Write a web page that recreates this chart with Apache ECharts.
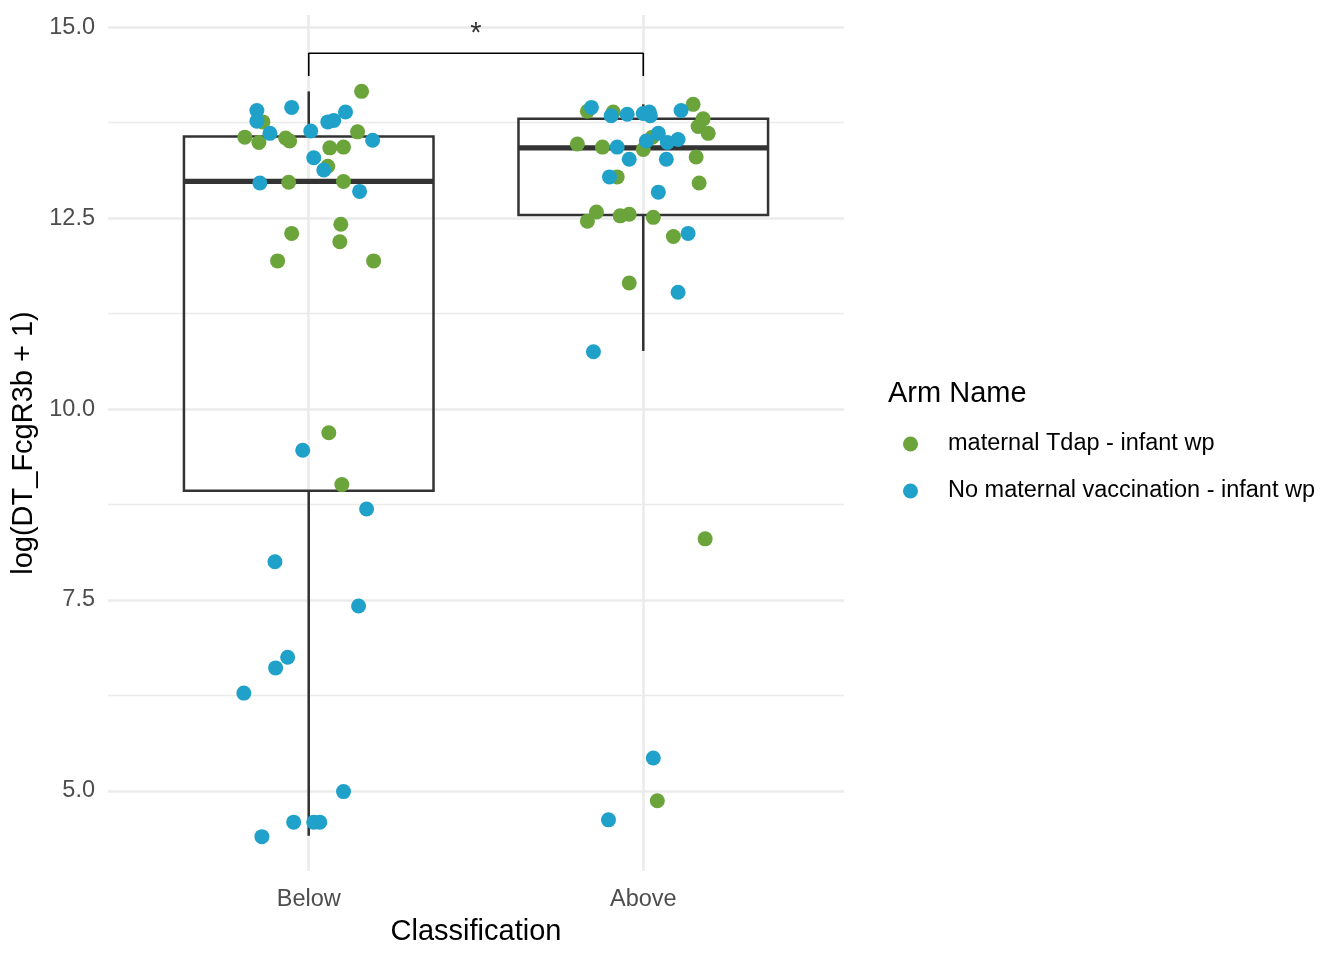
<!DOCTYPE html>
<html>
<head>
<meta charset="utf-8">
<script src="https://cdn.jsdelivr.net/npm/echarts@6/dist/echarts.min.js"></script>
<style>
	html, body { margin: 0; padding: 0; background: #fff; }
	#chart { width: 1344px; height: 960px; }
</style>
</head>
<body>
<div id="chart"></div>
<script>
// categories sit at x = 1 and x = 2, points carry their jitter
const categories = ['Below', 'Above'];
const categoryPos = [1, 2];
const armNames = ['maternal Tdap - infant wp', 'No maternal vaccination - infant wp'];
const armColors = ['#6AA43A', '#20A1C9'];

// boxplot stats per category
const boxLow = [4.41, 10.76];
const boxQ1 = [8.93, 12.54];
const boxMedian = [12.98, 13.42];
const boxQ3 = [13.57, 13.80];
const boxHigh = [14.16, 13.99];

// maternal Tdap - infant wp
const tdapX = [1.158, 0.863, 0.809, 0.851, 0.931, 0.943, 1.146, 1.063, 1.104, 1.057,
	0.940, 1.104, 1.096, 0.949, 1.093, 0.907, 1.194, 1.060, 1.099,
	1.833, 1.910, 2.149, 2.179, 2.164, 2.194, 1.803, 1.878, 2.027, 2.000,
	2.158, 1.922, 2.167, 1.860, 1.833, 1.931, 1.958, 2.030, 2.090, 1.958, 2.185, 2.042];
const tdapY = [14.16, 13.76, 13.56, 13.49, 13.55, 13.51, 13.63, 13.42, 13.43, 13.18,
	12.97, 12.98, 12.42, 12.30, 12.19, 11.94, 11.94, 9.69, 9.01,
	13.90, 13.89, 13.99, 13.80, 13.70, 13.61, 13.47, 13.43, 13.56, 13.40,
	13.30, 13.04, 12.96, 12.58, 12.46, 12.53, 12.55, 12.51, 12.26, 11.65, 8.30, 4.87];

// No maternal vaccination - infant wp
const noVaxX = [0.845, 0.949, 0.845, 1.110, 1.057, 1.075, 0.884, 1.006, 1.191, 1.015,
	1.045, 0.854, 1.152, 0.982, 1.173, 0.899, 1.149, 0.937, 0.901, 0.806,
	1.104, 0.955, 1.015, 1.033, 0.860,
	1.845, 1.904, 1.952, 2.000, 2.018, 2.021, 2.113, 1.922, 2.045, 2.009,
	2.072, 2.104, 1.958, 2.069, 1.899, 2.045, 2.134, 2.104, 1.851, 2.030, 1.896];
const noVaxY = [13.91, 13.95, 13.77, 13.89, 13.76, 13.78, 13.61, 13.64, 13.52, 13.29,
	13.13, 12.96, 12.85, 9.46, 8.69, 8.00, 7.42, 6.75, 6.61, 6.28,
	4.99, 4.59, 4.59, 4.59, 4.40,
	13.95, 13.84, 13.86, 13.87, 13.89, 13.84, 13.91, 13.43, 13.61, 13.51,
	13.49, 13.53, 13.27, 13.27, 13.04, 12.84, 12.30, 11.53, 10.75, 5.43, 4.62];

// significance bracket
const bracketX = [1, 1, 2, 2];
const bracketY = [14.36, 14.66, 14.66, 14.36];
const sigX = [1.5];
const sigY = [14.91];
const sigLabel = ['*'];

const yMajorTicks = [5, 7.5, 10, 12.5, 15];
const yMinorTicks = [6.25, 8.75, 11.25, 13.75];

const FONT = '"Liberation Sans", Arial, Helvetica, sans-serif';
const boxHalf = 0.373;

const boxData = categoryPos.map((x, i) => [x, boxLow[i], boxQ1[i], boxMedian[i], boxQ3[i], boxHigh[i]]);
const zip = (xs, ys) => xs.map((x, i) => [x, ys[i]]);

function renderBox(params, api) {
	const x = api.value(0);
	const lo = api.coord([x, api.value(1)]);
	const q1 = api.coord([x, api.value(2)]);
	const med = api.coord([x, api.value(3)]);
	const q3 = api.coord([x, api.value(4)]);
	const hi = api.coord([x, api.value(5)]);
	const left = api.coord([x - boxHalf, api.value(3)])[0];
	const right = api.coord([x + boxHalf, api.value(3)])[0];
	const stroke = {stroke: '#333333', lineWidth: 2.5, fill: null};
	return {
		type: 'group',
		children: [
			{type: 'line', shape: {x1: lo[0], y1: lo[1], x2: q1[0], y2: q1[1]}, style: stroke},
			{type: 'line', shape: {x1: q3[0], y1: q3[1], x2: hi[0], y2: hi[1]}, style: stroke},
			{type: 'rect', shape: {x: left, y: q3[1], width: right - left, height: q1[1] - q3[1]}, style: stroke},
			{type: 'line', shape: {x1: left, y1: med[1], x2: right, y2: med[1]},
				style: {stroke: '#333333', lineWidth: 5.2}},
		]
	};
}

const chart = echarts.init(document.getElementById('chart'));
chart.setOption({
	animation: false,
	backgroundColor: '#ffffff',
	textStyle: {fontFamily: FONT},
	grid: {left: 108, right: 500, top: 15, bottom: 89, containLabel: false},
	title: {
		text: 'Arm Name',
		left: 888,
		top: 379,
		padding: 0,
		textStyle: {fontFamily: FONT, fontSize: 29, fontWeight: 'normal', color: '#000000'}
	},
	legend: {
		data: armNames,
		orient: 'vertical',
		left: 898,
		top: 427,
		icon: 'circle',
		itemWidth: 15,
		itemHeight: 15,
		itemGap: 23,
		textStyle: {fontFamily: FONT, fontSize: 23.5, color: '#000000', lineHeight: 24, padding: [0, 0, 0, 25]}
	},
	xAxis: {
		type: 'value',
		min: 0.4,
		max: 2.6,
		name: 'Classification',
		nameLocation: 'middle',
		nameGap: 46,
		nameTextStyle: {fontFamily: FONT, fontSize: 29, color: '#000000'},
		axisLine: {show: false},
		axisTick: {show: false, customValues: categoryPos},
		axisLabel: {
			customValues: categoryPos,
			formatter: v => categories[categoryPos.indexOf(v)] || '',
			fontFamily: FONT, fontSize: 23.5, color: '#4D4D4D', margin: 17
		},
		splitLine: {show: true, lineStyle: {color: '#EBEBEB', width: 2.6}}
	},
	yAxis: {
		type: 'value',
		min: 3.95,
		max: 15.16,
		name: 'log(DT_FcgR3b + 1)',
		nameLocation: 'middle',
		nameGap: 68,
		nameTextStyle: {fontFamily: FONT, fontSize: 29, color: '#000000'},
		axisLine: {show: false},
		axisTick: {show: false, customValues: yMajorTicks},
		axisLabel: {
			customValues: yMajorTicks,
			formatter: v => v.toFixed(1),
			fontFamily: FONT, fontSize: 23.5, color: '#4D4D4D', margin: 13,
			padding: [4, 0, 0, 0]
		},
		splitLine: {show: true, lineStyle: {color: '#EBEBEB', width: 2.6}}
	},
	series: [
		{
			type: 'line',
			name: 'bracket',
			z: 1,
			data: zip(bracketX, bracketY),
			symbol: 'none',
			lineStyle: {color: '#000000', width: 1.6},
			silent: true,
			markLine: {
				silent: true,
				z: 0,
				symbol: 'none',
				label: {show: false},
				lineStyle: {color: '#EBEBEB', width: 1.3, type: 'solid'},
				data: yMinorTicks.map(v => ({yAxis: v}))
			}
		},
		{
			type: 'custom',
			name: 'box',
			z: 2,
			renderItem: renderBox,
			encode: {x: 0, y: [1, 2, 3, 4, 5]},
			data: boxData,
			silent: true
		},
		{
			type: 'scatter',
			name: armNames[0],
			z: 3,
			symbolSize: 15,
			itemStyle: {color: armColors[0], opacity: 1},
			data: zip(tdapX, tdapY)
		},
		{
			type: 'scatter',
			name: armNames[1],
			z: 4,
			symbolSize: 15,
			itemStyle: {color: armColors[1], opacity: 1},
			data: zip(noVaxX, noVaxY)
		},
		{
			type: 'scatter',
			name: 'sig',
			z: 5,
			symbolSize: 0,
			silent: true,
			data: zip(sigX, sigY),
			label: {
				show: true,
				position: 'inside',
				formatter: p => sigLabel[p.dataIndex],
				fontFamily: FONT, fontSize: 29, color: '#000000'
			}
		}
	]
});
</script>
</body>
</html>
